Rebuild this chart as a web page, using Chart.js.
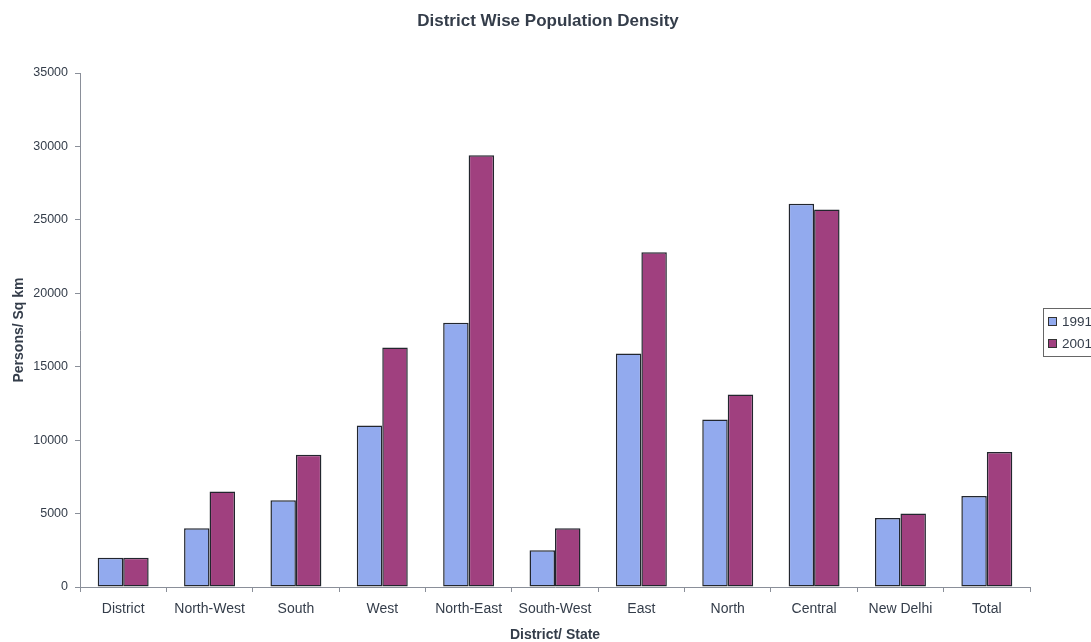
<!DOCTYPE html>
<html>
<head>
<meta charset="utf-8">
<script src="https://cdn.jsdelivr.net/npm/chart.js@4/dist/chart.umd.min.js"></script>
<style>
  html, body { margin: 0; padding: 0; background: #fff; }
  #wrap { width: 1091px; height: 642px; }
</style>
</head>
<body>
<div id="wrap"><canvas id="densityChart" width="1091" height="642"></canvas></div>
<script>
const districts = ['District', 'North-West', 'South', 'West', 'North-East', 'South-West', 'East', 'North', 'Central', 'New Delhi', 'Total'];
const density1991 = [2000, 4000, 5900, 11000, 18000, 2500, 15900, 11400, 26100, 4700, 6200];
const density2001 = [2000, 6500, 9000, 16300, 29400, 4000, 22800, 13100, 25700, 5000, 9200];
const yTicks = [0, 5000, 10000, 15000, 20000, 25000, 30000, 35000];

const textColor = '#343d4a';
const font = 'Arial, "Liberation Sans", sans-serif';

// title and the legend box on the right, drawn by hand
const extras = {
  id: 'extras',
  afterDraw(chart) {
    const c = chart.ctx;
    c.save();
    c.fillStyle = textColor;
    c.font = 'bold 17px ' + font;
    c.textAlign = 'center';
    c.textBaseline = 'middle';
    c.fillText('District Wise Population Density', 548, 21);

    c.strokeStyle = '#666';
    c.lineWidth = 1;
    c.strokeRect(1043.5, 308.5, 60, 48);
    c.font = '13.5px ' + font;
    c.textAlign = 'left';
    chart.data.datasets.forEach((ds, i) => {
      const y = 321 + i * 22;
      c.fillStyle = ds.backgroundColor;
      c.fillRect(1048, y - 4, 9, 9);
      c.strokeStyle = '#333';
      c.strokeRect(1048.5, y - 3.5, 8, 8);
      c.fillStyle = textColor;
      c.fillText(ds.label, 1062, y + 1);
    });
    c.restore();
  }
};

new Chart(document.getElementById('densityChart'), {
  type: 'bar',
  data: {
    labels: districts,
    datasets: [
      { label: '1991', data: density1991, backgroundColor: '#92aaee', borderColor: '#22262e', borderWidth: 1.5, borderSkipped: false },
      { label: '2001', data: density2001, backgroundColor: '#a0407f', borderColor: '#22262e', borderWidth: 1.5, borderSkipped: false }
    ]
  },
  options: {
    responsive: false,
    animation: false,
    layout: { padding: { top: 73, right: 61, left: 0, bottom: 0 } },
    datasets: { bar: { categoryPercentage: 0.59, barPercentage: 1 } },
    plugins: {
      legend: { display: false },
      title: { display: false },
      tooltip: { enabled: false }
    },
    scales: {
      x: {
        grid: { offset: true, drawOnChartArea: false, drawTicks: true, tickLength: 5, color: '#8a8f99' },
        border: { display: true, color: '#8a8f99' },
        ticks: { color: textColor, font: { family: font, size: 14 }, padding: 9, maxRotation: 0, autoSkip: false },
        title: { display: true, text: 'District/ State', color: textColor, font: { family: font, size: 14, weight: 'bold' }, padding: { top: 6, bottom: -2 } },
        afterFit(scale) { scale.height = 55; }
      },
      y: {
        min: 0,
        max: 35000,
        afterBuildTicks(scale) { scale.ticks = yTicks.map(v => ({ value: v })); },
        grid: { drawOnChartArea: false, drawTicks: true, tickLength: 5, color: '#8a8f99' },
        border: { display: true, color: '#8a8f99' },
        ticks: { color: textColor, font: { family: font, size: 12.5 }, padding: 7, callback: v => String(v) },
        title: { display: true, text: 'Persons/ Sq km', color: textColor, font: { family: font, size: 14, weight: 'bold' }, padding: { top: 11, bottom: 2 } },
        afterFit(scale) { scale.width = 80; }
      }
    }
  },
  plugins: [extras]
});
</script>
</body>
</html>
